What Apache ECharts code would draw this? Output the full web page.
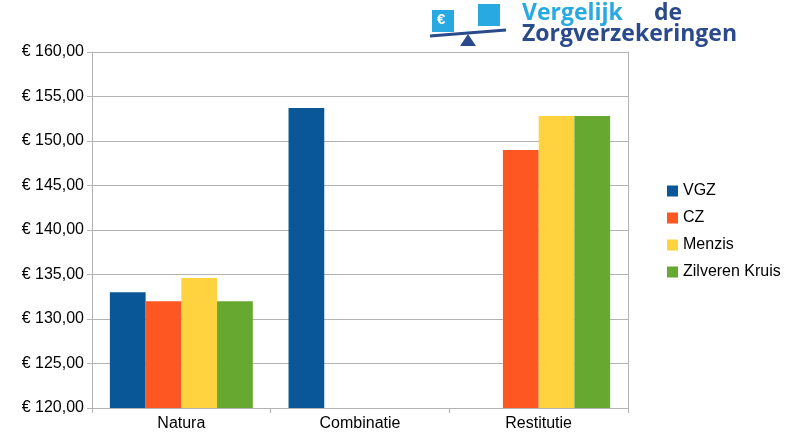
<!DOCTYPE html>
<html><head><meta charset="utf-8">
<script src="https://cdn.jsdelivr.net/npm/echarts@6/dist/echarts.min.js"></script>
<style>html,body{margin:0;background:#fff}</style></head>
<body><div id="chart" style="width:800px;height:446px"></div>
<script>
const categories = ['Natura', 'Combinatie', 'Restitutie'];
const vgz = [133.0, 153.7, null];
const cz = [132.0, null, 149.0];
const menzis = [134.6, null, 152.8];
const zilveren = [132.0, null, 152.8];

const euro = v => '€ ' + v.toFixed(2).replace('.', ',');
const bar = (name, data, color) => ({ name, type: 'bar', data, itemStyle: { color }, barGap: '0%', barCategoryGap: '20%' });

const chart = echarts.init(document.getElementById('chart'));
chart.setOption({
  animation: false,
  textStyle: { fontFamily: 'Liberation Sans, Arial, sans-serif' },
  grid: { left: 92, right: 172, top: 52, bottom: 38 },
  xAxis: [{
    type: 'category', data: categories,
    axisTick: { show: true, length: 5, lineStyle: { color: '#b3b3b3' } },
    axisLine: { lineStyle: { color: '#b3b3b3' } },
    axisLabel: { color: '#000', fontSize: 16 }
  }, {
    type: 'category', position: 'top', data: categories,
    axisLine: { show: false }, axisTick: { show: false }, axisLabel: { show: false }
  }],
  yAxis: [{
    type: 'value', min: 120, max: 160, interval: 5,
    axisLine: { show: true, lineStyle: { color: '#b3b3b3' } },
    axisTick: { show: true, length: 5, lineStyle: { color: '#b3b3b3' } },
    splitLine: { lineStyle: { color: '#b3b3b3' } },
    axisLabel: { color: '#000', fontSize: 16, formatter: euro }
  }, {
    type: 'value', min: 120, max: 160, interval: 5, position: 'right',
    axisLine: { show: true, lineStyle: { color: '#b3b3b3' } },
    axisTick: { show: false }, splitLine: { show: false }, axisLabel: { show: false }
  }],
  legend: {
    orient: 'vertical', left: 662, top: 178, itemWidth: 11, itemHeight: 11, itemGap: 11,
    icon: 'rect', textStyle: { fontSize: 16, color: '#000' }
  },
  graphic: [
    { type: 'rect', shape: { x: 432, y: 10, width: 22, height: 22 }, style: { fill: '#29a9e1' } },
    { type: 'rect', shape: { x: 478, y: 4, width: 22, height: 22 }, style: { fill: '#29a9e1' } },
    { type: 'text', left: 437, top: 12, style: { text: '€', fill: '#fff', font: 'bold 15px Liberation Sans' } },
    { type: 'line', shape: { x1: 430, y1: 36, x2: 506, y2: 30 }, style: { stroke: '#2b4a8b', lineWidth: 3 } },
    { type: 'polygon', shape: { points: [[468, 34], [460, 46], [476, 46]] }, style: { fill: '#2b4a8b' } },
    { type: 'text', left: 522, top: 2, style: { text: 'Vergelijk', fill: '#29a9e1', font: 'bold 23px Open Sans' } },
    { type: 'text', left: 654, top: 2, style: { text: 'de', fill: '#2b4a8b', font: 'bold 23px Open Sans' } },
    { type: 'text', left: 522, top: 23, style: { text: 'Zorgverzekeringen', fill: '#2b4a8b', font: 'bold 23px Open Sans' } }
  ],
  series: [
    bar('VGZ', vgz, '#0a5797'),
    bar('CZ', cz, '#ff5722'),
    bar('Menzis', menzis, '#ffd340'),
    bar('Zilveren Kruis', zilveren, '#67a830')
  ]
});
</script></body></html>
